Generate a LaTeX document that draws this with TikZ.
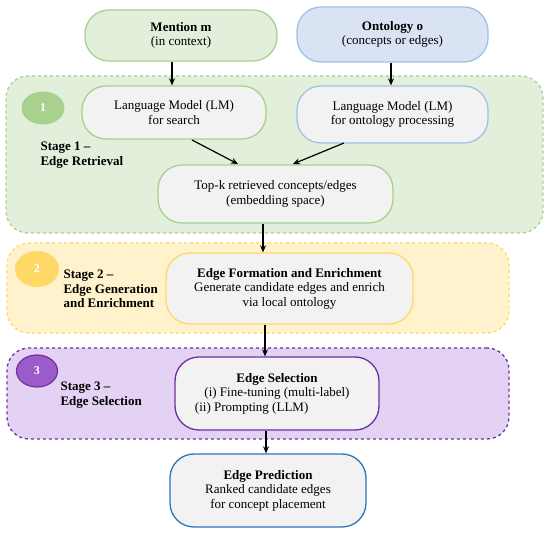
\documentclass[tikz,border=0pt]{standalone}
\usepackage{fontspec}
\setmainfont{Liberation Serif}
\usetikzlibrary{arrows.meta,shapes.geometric}

\definecolor{grnfill}{HTML}{E2EFDA}
\definecolor{grnline}{HTML}{A9D18E}
\definecolor{bluefill}{HTML}{DAE3F3}
\definecolor{blueline}{HTML}{9DC3E6}
\definecolor{yelfill}{HTML}{FFF2CC}
\definecolor{yelline}{HTML}{FFD966}
\definecolor{purfill}{HTML}{E3D2F3}
\definecolor{purline}{HTML}{7030A0}
\definecolor{purdot}{HTML}{9B5BC9}
\definecolor{predline}{HTML}{2E75B6}
\definecolor{boxgray}{HTML}{F2F2F2}

\tikzset{
  pill/.style={draw, line width=1.3pt, rounded corners=24pt, fill=boxgray,
    align=center, inner sep=0pt, font=\fontsize{13}{14.5}\selectfont},
  stagebox/.style={draw, dashed, line width=1.3pt, rounded corners=22pt,
    inner sep=0pt},
  stagenum/.style={ellipse, inner sep=0pt, text=white,
    font=\fontsize{12}{14}\selectfont\bfseries},
  stagelabel/.style={align=left, font=\fontsize{13}{14.5}\selectfont\bfseries},
  flow/.style={-{Stealth[length=7pt,width=6pt]}, line width=1.2pt}
}

\begin{document}
\begin{tikzpicture}[x=1pt,y=-1pt]
  \useasboundingbox (0,0) rectangle (550,534);

  % Stage containers
  \node[stagebox, draw=grnline, fill=grnfill, minimum width=537pt, minimum height=157pt] (s1) at (274.5,154.5) {};
  \node[stagebox, draw=yelline, fill=yelfill, minimum width=502pt, minimum height=90pt] (s2) at (258,288) {};
  \node[stagebox, draw=purline, fill=purfill, minimum width=502pt, minimum height=91pt] (s3) at (258,393.5) {};

  % Stage badges
  \node[stagenum, fill=grnline, minimum width=43pt, minimum height=33pt] (n1) at (43,108) {1};
  \node[stagenum, fill=yelline, minimum width=44pt, minimum height=36pt] (n2) at (37,269) {2};
  \node[stagenum, draw=purline, line width=1.2pt, fill=purdot, minimum width=41pt, minimum height=32pt] (n3) at (37,371) {3};

  % Stage labels
  \node[stagelabel, anchor=west] (l1) at (37,155) {Stage 1 --\\Edge Retrieval};
  \node[stagelabel, anchor=west] (l2) at (60,289) {Stage 2 --\\Edge Generation\\and Enrichment};
  \node[stagelabel, anchor=west] (l3) at (57,395) {Stage 3 --\\Edge Selection};

  % Inputs
  \node[pill, draw=grnline, fill=grnfill, minimum width=192pt, minimum height=51pt] (mention) at (181,35.5) {\textbf{Mention m}\\(in context)};
  \node[pill, draw=blueline, fill=bluefill, minimum width=191pt, minimum height=55pt] (onto) at (392.5,34.5) {\textbf{Ontology o}\\(concepts or edges)};

  % Stage 1
  \node[pill, draw=grnline, minimum width=184pt, minimum height=53pt] (lmsearch) at (174,112.5) {Language Model (LM)\\for search};
  \node[pill, draw=blueline, minimum width=191pt, minimum height=57pt] (lmonto) at (392.5,114.5) {Language Model (LM)\\for ontology processing};
  \node[pill, draw=grnline, minimum width=235pt, minimum height=58pt] (topk) at (275.5,194) {Top-k retrieved concepts/edges\\(embedding space)};

  % Stage 2
  \node[pill, draw=yelline, minimum width=247pt, minimum height=71pt] (form) at (289.5,288.5) {\textbf{Edge Formation and Enrichment}\\Generate candidate edges and enrich\\via local ontology};

  % Stage 3
  \node[pill, draw=purline, minimum width=204pt, minimum height=73pt] (select) at (277,393.5) {\textbf{Edge Selection}\\(i) Fine-tuning (multi-label)\\(ii) Prompting (LLM)\hspace*{3.9em}};

  % Output
  \node[pill, draw=predline, minimum width=196pt, minimum height=73pt] (pred) at (268,490.5) {\textbf{Edge Prediction}\\Ranked candidate edges\\for concept placement};

  % Arrows
  \draw[flow] (mention.south -| 172,0) -- (lmsearch.north -| 172,0);
  \draw[flow] (onto.south -| 391,0) -- (lmonto.north -| 391,0);
  \draw[flow] (192,140) -- (238,164);
  \draw[flow] (344,143) -- (293,164);
  \draw[flow] (topk.south -| 263,0) -- (form.north -| 263,0);
  \draw[flow] (form.south -| 265,0) -- (select.north -| 265,0);
  \draw[flow] (select.south -| 266,0) -- (pred.north -| 266,0);
\end{tikzpicture}
\end{document}
